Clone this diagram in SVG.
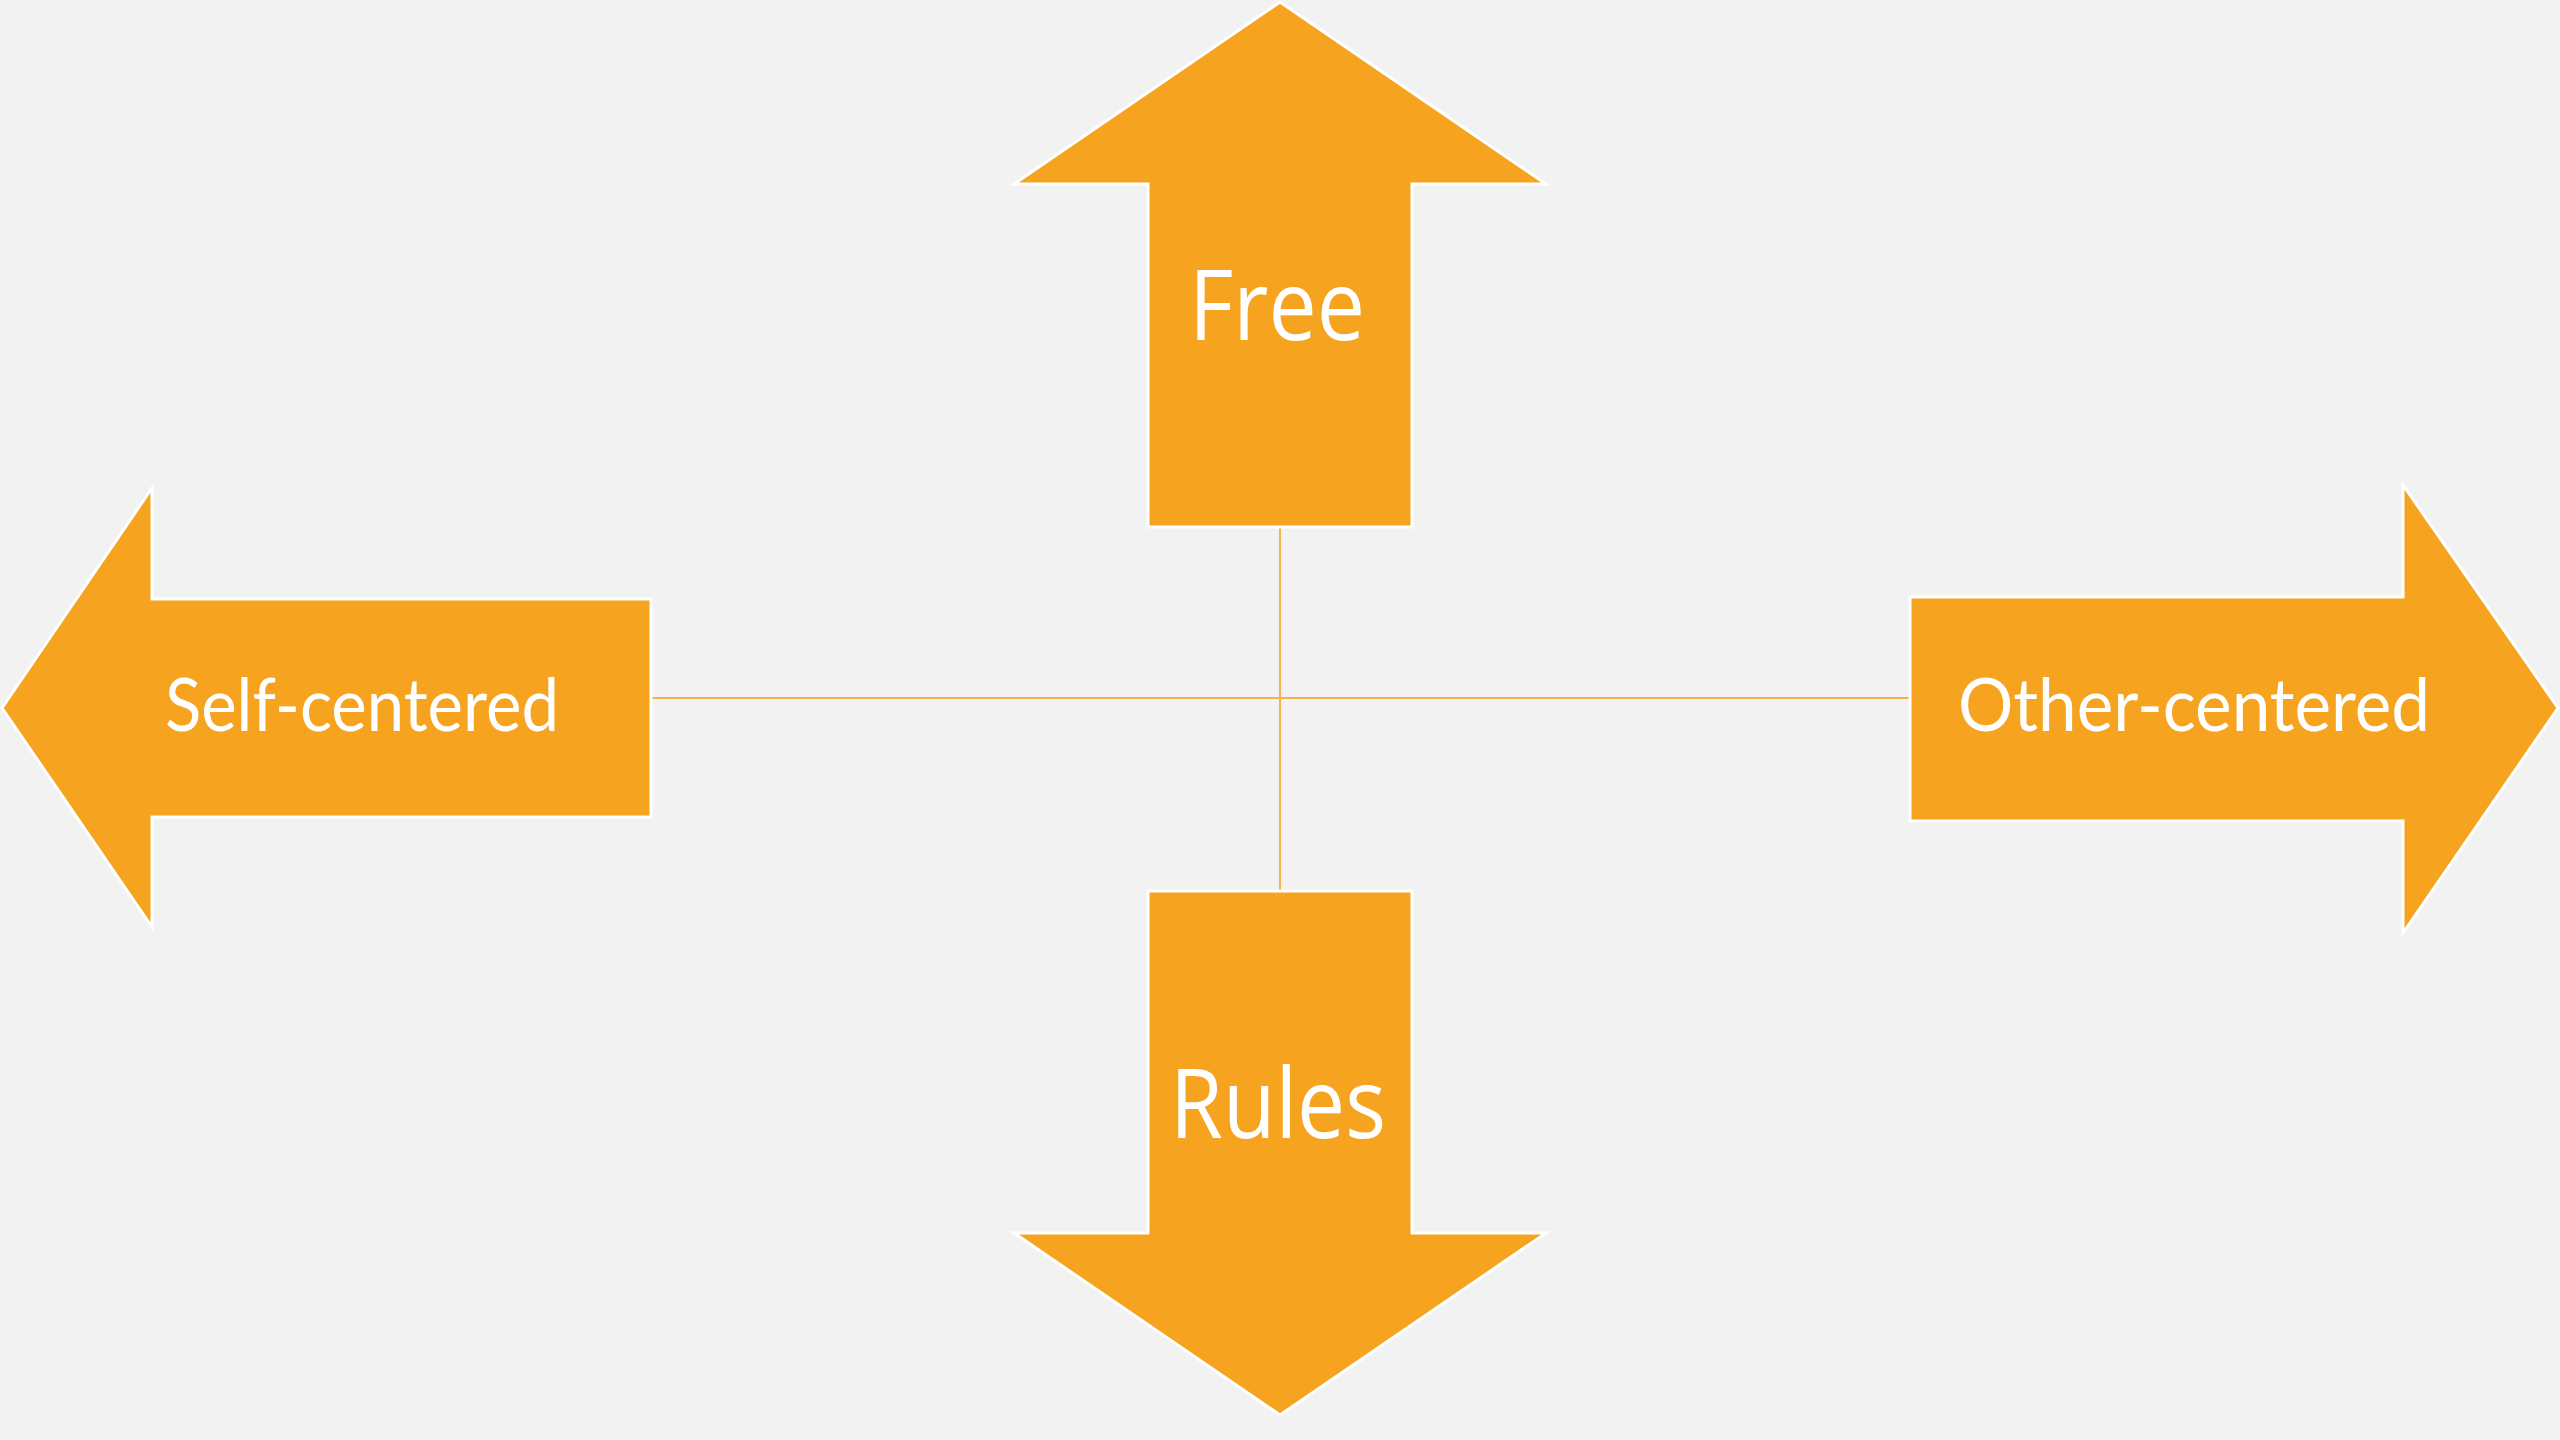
<svg xmlns="http://www.w3.org/2000/svg" width="2560" height="1440" viewBox="0 0 2560 1440">
  <style>
    .arrow { fill: #F6A41F; stroke: #FFFFFF; stroke-width: 3; stroke-linejoin: miter; }
    .conn { stroke: #F5B14C; stroke-width: 2; fill: none; }
    .lblA { font-family: "Open Sans", "Noto Sans", "DejaVu Sans", sans-serif; font-size: 97px; fill: #FFFFFF; }
    .lblB { font-family: "Lato", "Open Sans", "Liberation Sans", sans-serif; font-size: 74px; fill: #FFFFFF; }
  </style>
  <rect x="0" y="0" width="2560" height="1440" fill="#F2F2F2"/>
  <g id="connectors">
    <line class="conn" x1="651" y1="698" x2="1910" y2="698"/>
    <line class="conn" x1="1280" y1="527" x2="1280" y2="891"/>
  </g>
  <g id="node-free">
    <polygon class="arrow" points="1280,2 1546,184 1412,184 1412,527 1148,527 1148,184 1014,184"/>
    <text class="lblA" x="1189" y="340" textLength="176" lengthAdjust="spacingAndGlyphs">Free</text>
  </g>
  <g id="node-rules">
    <polygon class="arrow" points="1148,891 1412,891 1412,1233 1546,1233 1280,1415 1014,1233 1148,1233"/>
    <text class="lblA" x="1170" y="1138" textLength="216" lengthAdjust="spacingAndGlyphs">Rules</text>
  </g>
  <g id="node-self">
    <polygon class="arrow" points="2,708 152,488 152,599 651,599 651,817 152,817 152,927"/>
    <text class="lblB" x="165" y="731" textLength="394" lengthAdjust="spacingAndGlyphs">Self-centered</text>
  </g>
  <g id="node-other">
    <polygon class="arrow" points="1910,597 2403,597 2403,485 2558,708 2403,933 2403,821 1910,821"/>
    <text class="lblB" x="1958" y="731" textLength="472" lengthAdjust="spacingAndGlyphs">Other-centered</text>
  </g>
</svg>
